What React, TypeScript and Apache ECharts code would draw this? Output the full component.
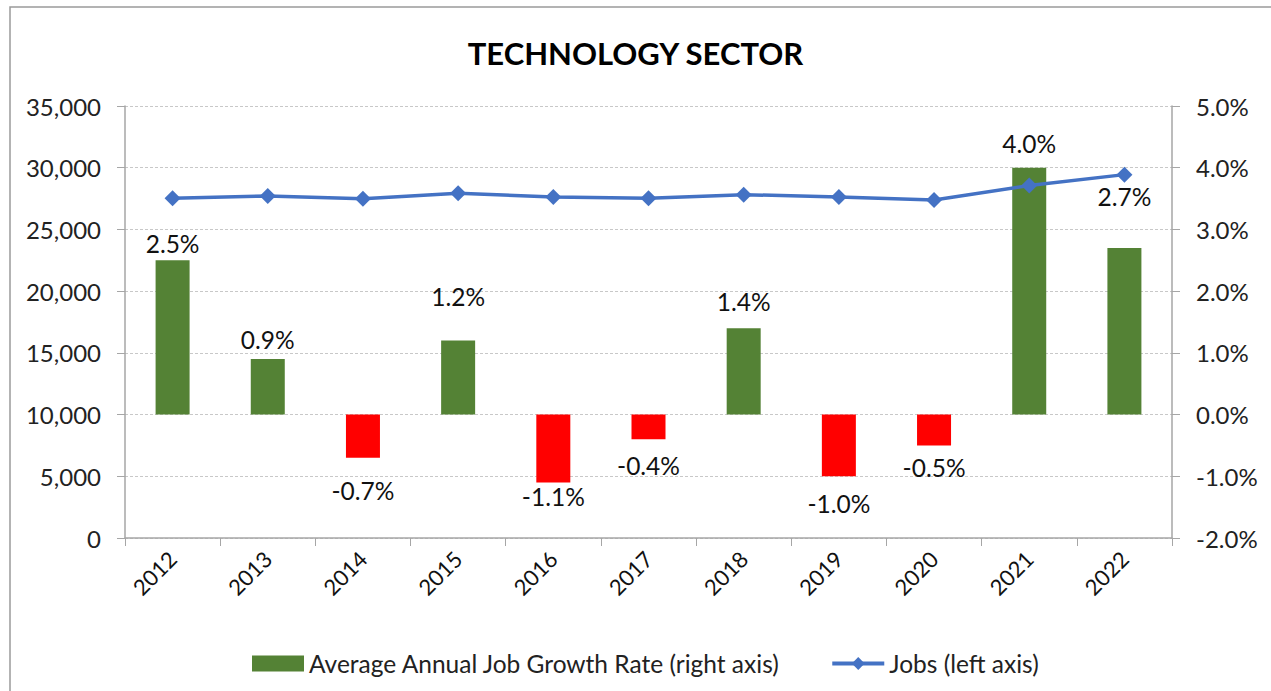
import React, { useEffect, useRef } from "react";
import * as echarts from "echarts";

const years = ["2012", "2013", "2014", "2015", "2016", "2017", "2018", "2019", "2020", "2021", "2022"];
const growthRate = [2.5, 0.9, -0.7, 1.2, -1.1, -0.4, 1.4, -1.0, -0.5, 4.0, 2.7];
const jobs = [27520, 27710, 27490, 27930, 27630, 27520, 27815, 27630, 27390, 28550, 29440];
const titleText = "TECHNOLOGY SECTOR";
const barName = "Average Annual Job Growth Rate (right axis)";
const lineName = "Jobs (left axis)";

// manual label nudges (px) as in the original chart
const labelNudge = [0, -3, 16, -28, -2, 10, -10, 11, 6, -8, -35];

const FONT = "Lato, 'Open Sans', sans-serif";

export default function App() {
  const ref = useRef<HTMLDivElement>(null);
  useEffect(() => {
    if (!ref.current) return;
    const chart = echarts.init(ref.current, null, { renderer: "svg" });
    const option: any = {
      animation: false,
      backgroundColor: "#fff",
      textStyle: { fontFamily: FONT },
      title: {
        text: titleText,
        left: "center",
        top: 32,
        textStyle: { fontFamily: FONT, fontWeight: "bold", fontSize: 31, color: "#000" },
      },
      graphic: [
        {
          type: "rect",
          shape: { x: 10, y: 7, width: 1300, height: 720 },
          style: { fill: "none", stroke: "#9a9a9a", lineWidth: 1.5 },
          silent: true,
          z: -1,
        },
      ],
      legend: {
        top: 646,
        left: 247,
        itemGap: 50,
        itemWidth: 52,
        itemHeight: 16,
        textStyle: { fontFamily: FONT, fontSize: 24.5, color: "#222" },
        data: [
          { name: barName, icon: "rect" },
          { name: lineName, lineStyle: { width: 4, color: "#4472c4" } },
        ],
      },
      grid: { left: 125, right: 99, top: 106, bottom: 153, containLabel: false },
      xAxis: {
        type: "category",
        data: years,
        axisLine: { lineStyle: { color: "#a6a6a6", width: 1.5 } },
        axisTick: { show: true, alignWithLabel: false, length: 8, lineStyle: { color: "#a6a6a6" } },
        axisLabel: { rotate: 45, fontSize: 22, color: "#111", margin: 17, fontFamily: FONT },
      },
      yAxis: [
        {
          type: "value",
          min: 0,
          max: 35000,
          interval: 5000,
          axisLine: { show: true, lineStyle: { color: "#a6a6a6", width: 1.5 } },
          axisTick: { show: true, length: 8, lineStyle: { color: "#a6a6a6" } },
          splitLine: { show: true, lineStyle: { color: "#c8c8c8", type: [3, 2], width: 1 } },
          axisLabel: {
            fontSize: 24,
            color: "#222",
            margin: 24,
            fontFamily: FONT,
            formatter: (v: number) => v.toLocaleString("en-US"),
          },
        },
        {
          type: "value",
          min: -2,
          max: 5,
          interval: 1,
          position: "right",
          axisLine: { show: true, lineStyle: { color: "#a6a6a6", width: 1.5 } },
          axisTick: { show: true, length: 8, lineStyle: { color: "#a6a6a6" } },
          splitLine: { show: false },
          axisLabel: {
            fontSize: 24,
            color: "#222",
            margin: 24,
            fontFamily: FONT,
            formatter: (v: number) => v.toFixed(1) + "%",
          },
        },
      ],
      series: [
        {
          name: barName,
          type: "bar",
          yAxisIndex: 1,
          barWidth: 34,
          itemStyle: { color: "#548235" },
          data: growthRate.map((v, i) => ({
            value: v,
            itemStyle: { color: v < 0 ? "#ff0000" : "#548235" },
            label: {
              show: true,
              position: v < 0 ? "bottom" : "top",
              distance: 4,
              offset: [0, labelNudge[i]],
              fontSize: 24.5,
              color: "#111",
              fontFamily: FONT,
              formatter: (p: any) => Number(p.value).toFixed(1) + "%",
            },
          })),
          z: 2,
        },
        {
          name: lineName,
          type: "line",
          yAxisIndex: 0,
          data: jobs,
          symbol: "diamond",
          symbolSize: 16,
          lineStyle: { color: "#4472c4", width: 3.5 },
          itemStyle: { color: "#4472c4" },
          z: 3,
        },
      ],
    };
    chart.setOption(option);
    return () => chart.dispose();
  }, []);
  return (
    <div
      ref={ref}
      style={{ position: "absolute", left: 0, top: 0, width: 1271, height: 691 }}
    />
  );
}
